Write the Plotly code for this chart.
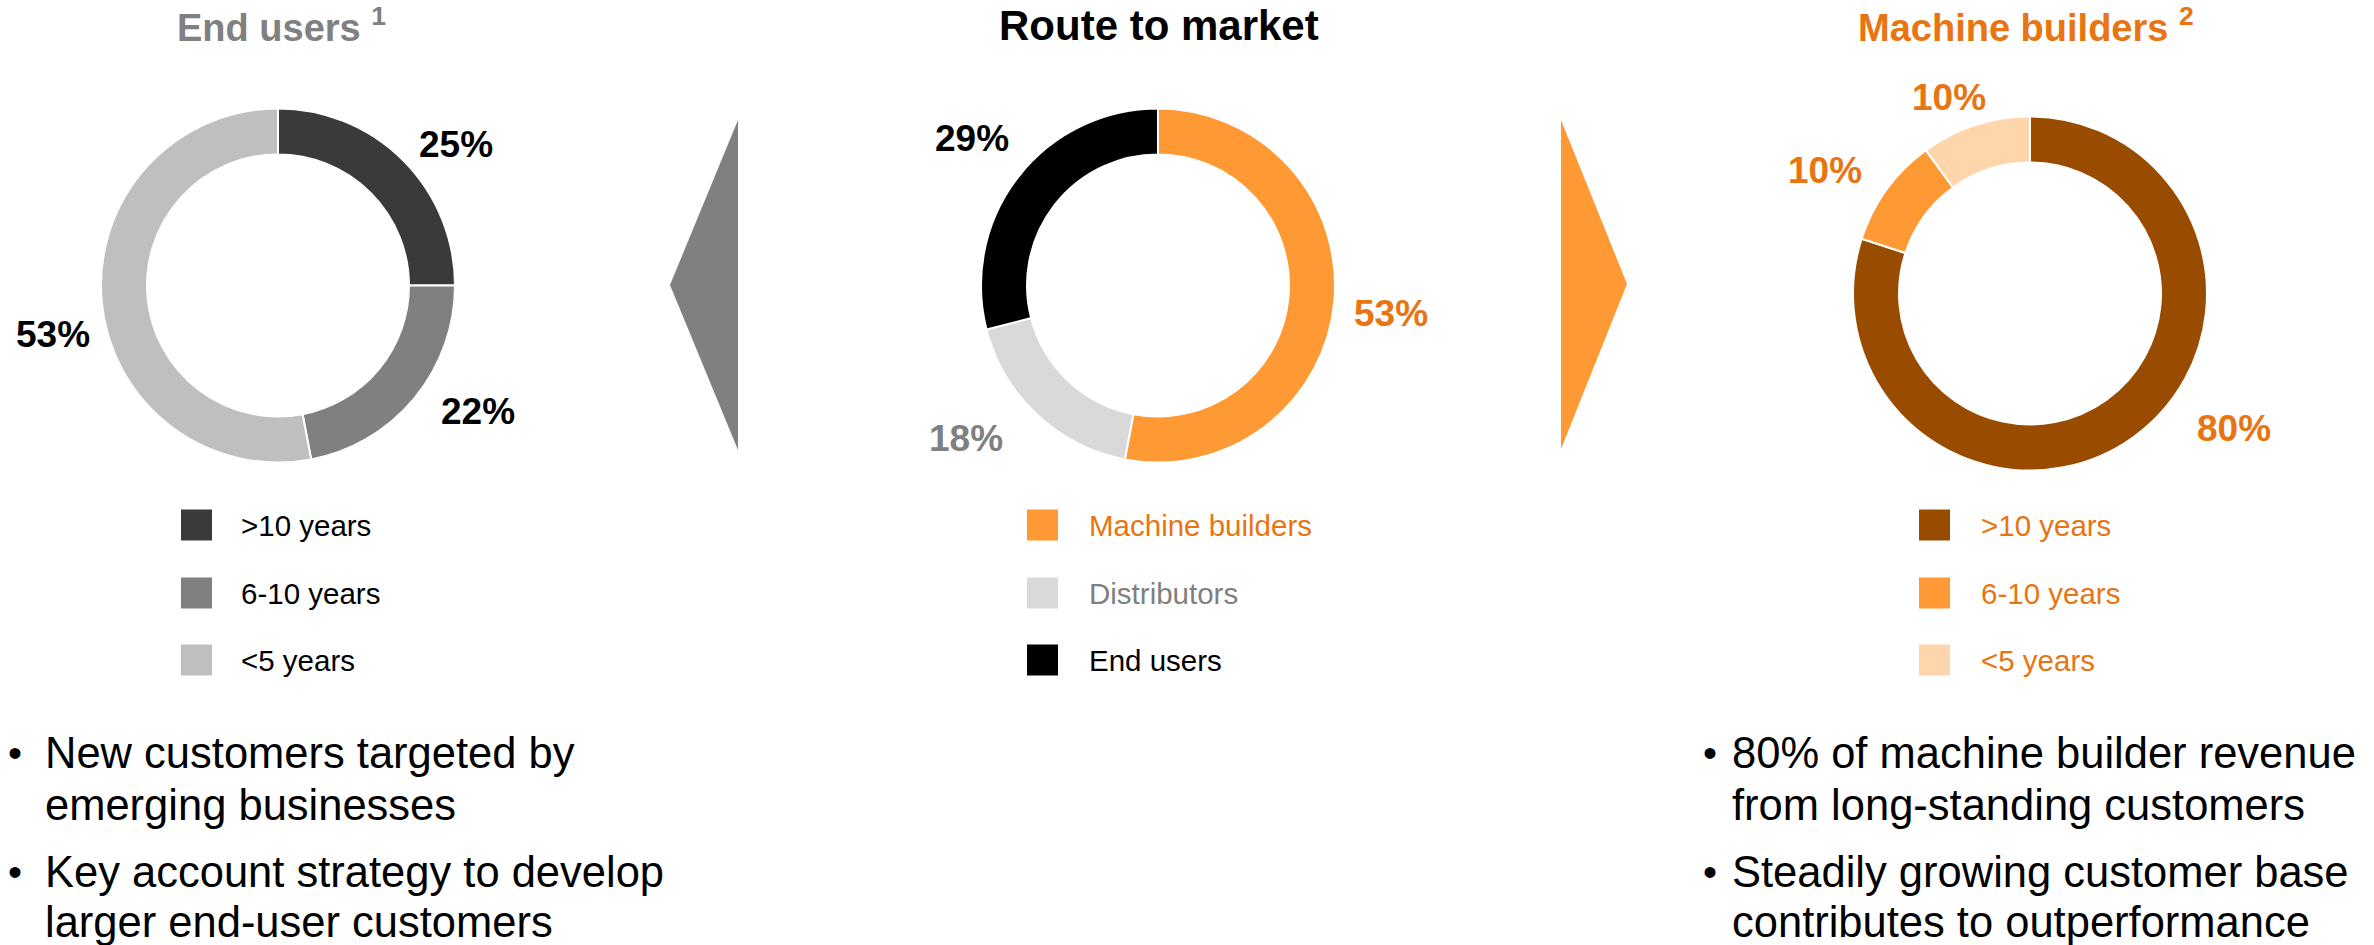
import plotly.graph_objects as go

# ---------------- data ----------------
end_user_labels = [">10 years", "6-10 years", "<5 years"]
end_user_values = [25, 22, 53]
end_user_colors = ["#3A3A3A", "#808080", "#BFBFBF"]
end_user_text_colors = ["#000000", "#000000", "#000000"]
end_user_legend_colors = ["#000000", "#000000", "#000000"]

route_labels = ["Machine builders", "Distributors", "End users"]
route_values = [53, 18, 29]
route_colors = ["#FF9933", "#D9D9D9", "#000000"]
route_text_colors = ["#E87511", "#808080", "#000000"]
route_legend_colors = ["#E87511", "#808080", "#000000"]

mb_labels = [">10 years", "6-10 years", "<5 years"]
mb_values = [80, 10, 10]
mb_colors = ["#994C00", "#FF9933", "#FFD6AC"]
mb_text_colors = ["#E87511", "#E87511", "#E87511"]
mb_legend_colors = ["#E87511", "#E87511", "#E87511"]

titles = ["End users <sup>1</sup>", "Route to market", "Machine builders <sup>2</sup>"]
title_colors = ["#808080", "#000000", "#E87511"]
title_sizes = [38, 42, 38]

left_bullets = [["New customers targeted by", "emerging businesses"],
                ["Key account strategy to develop", "larger end-user customers"]]
right_bullets = [["80% of machine builder revenue", "from long-standing customers"],
                 ["Steadily growing customer base", "contributes to outperformance"]]

# ---------------- layout helpers (pixel -> paper) ----------------
W, H = 2374, 945
FONT = "Arial, Liberation Sans, sans-serif"


def px(x):
    return x / W


def py(y):
    return 1 - y / H


R = 177
donuts = [
    dict(labels=end_user_labels, values=end_user_values, colors=end_user_colors,
         tcolors=end_user_text_colors, lcolors=end_user_legend_colors,
         cx=278, cy=285.5, title_x=175, title_anchor="left",
         label_pos=[(456, 144), (478, 412), (53, 335)],
         sq_x=181, txt_x=239),
    dict(labels=route_labels, values=route_values, colors=route_colors,
         tcolors=route_text_colors, lcolors=route_legend_colors,
         cx=1158, cy=285.5, title_x=1159, title_anchor="center",
         label_pos=[(1391, 313), (966, 438), (972, 138)],
         sq_x=1027, txt_x=1087),
    dict(labels=mb_labels, values=mb_values, colors=mb_colors,
         tcolors=mb_text_colors, lcolors=mb_legend_colors,
         cx=2030, cy=293.5, title_x=1856, title_anchor="left",
         label_pos=[(2234, 429), (1825, 170), (1949, 97)],
         sq_x=1919, txt_x=1979),
]
legend_rows = [525, 593, 660]
SQ = 31

fig = go.Figure()
annotations = []
shapes = []

for i, d in enumerate(donuts):
    fig.add_trace(go.Pie(
        labels=d["labels"], values=d["values"],
        marker=dict(colors=d["colors"], line=dict(color="white", width=2)),
        hole=0.74, sort=False, direction="clockwise", rotation=0,
        textinfo="none", hoverinfo="label+percent", showlegend=False,
        domain=dict(x=[px(d["cx"] - R), px(d["cx"] + R)],
                    y=[py(d["cy"] + R), py(d["cy"] - R)]),
    ))
    # percentage labels
    for v, (lx, ly), c in zip(d["values"], d["label_pos"], d["tcolors"]):
        annotations.append(dict(
            x=px(lx), y=py(ly), xref="paper", yref="paper",
            text=f"<b>{v}%</b>", showarrow=False,
            xanchor="center", yanchor="middle",
            font=dict(family=FONT, size=37, color=c)))
    # title
    annotations.append(dict(
        x=px(d["title_x"]), y=py(25), xref="paper", yref="paper",
        text=f"<b>{titles[i]}</b>", showarrow=False,
        xanchor=d["title_anchor"], yanchor="middle",
        font=dict(family=FONT, size=title_sizes[i], color=title_colors[i])))
    # legend
    for lab, col, tcol, ry in zip(d["labels"], d["colors"], d["lcolors"], legend_rows):
        shapes.append(dict(
            type="rect", xref="paper", yref="paper",
            x0=px(d["sq_x"]), x1=px(d["sq_x"] + SQ),
            y0=py(ry + SQ / 2), y1=py(ry - SQ / 2),
            fillcolor=col, line=dict(width=0)))
        annotations.append(dict(
            x=px(d["txt_x"]), y=py(ry), xref="paper", yref="paper",
            text=lab, showarrow=False, xanchor="left", yanchor="middle",
            font=dict(family=FONT, size=29.5, color=tcol)))


# arrows
def poly(points):
    return "M " + " L ".join(f"{px(x)},{py(y)}" for x, y in points) + " Z"


shapes.append(dict(type="path", xref="paper", yref="paper",
                   path=poly([(738, 120), (670, 285), (738, 450)]),
                   fillcolor="#808080", line=dict(width=0)))
shapes.append(dict(type="path", xref="paper", yref="paper",
                   path=poly([(1561, 120), (1627, 284), (1561, 449)]),
                   fillcolor="#FF9933", line=dict(width=0)))

# bullet texts
line_ys = [[753, 805], [872, 922]]
for bullets, bx, tx in [(left_bullets, 15, 43), (right_bullets, 1710, 1730)]:
    for bi, lines in enumerate(bullets):
        annotations.append(dict(
            x=px(bx), y=py(line_ys[bi][0]), xref="paper", yref="paper",
            text="•", showarrow=False, xanchor="center", yanchor="middle",
            font=dict(family=FONT, size=40, color="#000000")))
        for li, line in enumerate(lines):
            annotations.append(dict(
                x=px(tx), y=py(line_ys[bi][li]), xref="paper", yref="paper",
                text=line, showarrow=False, xanchor="left", yanchor="middle",
                font=dict(family=FONT, size=43.5, color="#000000")))

fig.update_layout(
    width=W, height=H,
    margin=dict(l=0, r=0, t=0, b=0),
    paper_bgcolor="white", plot_bgcolor="white",
    annotations=annotations, shapes=shapes,
    showlegend=False,
)

fig.write_html("out.html",
               config={"displayModeBar": False},
               post_script="document.body.style.margin='0px';"
                           "document.body.style.overflow='hidden';")
